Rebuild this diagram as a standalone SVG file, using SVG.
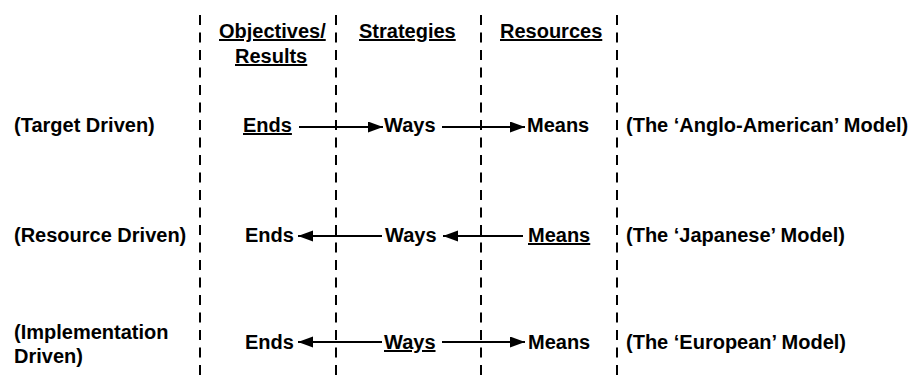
<svg xmlns="http://www.w3.org/2000/svg" width="912" height="379" viewBox="0 0 912 379">
  <style>
    text { font-family: "Liberation Sans", Arial, sans-serif; font-weight: bold; font-size: 20px; fill: #000; }
    .u { text-decoration: underline; }
    .divider { stroke: #000; stroke-width: 2; stroke-dasharray: 10 7.5; fill: none; }
    .flow { stroke: #000; stroke-width: 1.8; fill: none; marker-end: url(#head); }
  </style>
  <defs>
    <marker id="head" markerUnits="userSpaceOnUse" markerWidth="16" markerHeight="12" refX="15" refY="5.5" orient="auto">
      <path d="M0,0 L15,5.5 L0,11 Z" fill="#000"/>
    </marker>
  </defs>
  <rect width="912" height="379" fill="#fff"/>

  <!-- column dividers -->
  <g id="dividers">
    <line class="divider" x1="200" y1="15" x2="200" y2="379"/>
    <line class="divider" x1="336" y1="15" x2="336" y2="379"/>
    <line class="divider" x1="481" y1="15" x2="481" y2="379"/>
    <line class="divider" x1="617" y1="15" x2="617" y2="379"/>
  </g>

  <!-- column headings -->
  <g id="head-objectives">
    <text class="u" x="219" y="38">Objectives/</text>
    <text class="u" x="235" y="63">Results</text>
  </g>
  <g id="head-strategies"><text class="u" x="359" y="38">Strategies</text></g>
  <g id="head-resources"><text class="u" x="500" y="38">Resources</text></g>

  <!-- row labels -->
  <g id="label-target"><text x="14" y="132">(Target Driven)</text></g>
  <g id="label-resource"><text x="14" y="242">(Resource Driven)</text></g>
  <g id="label-implementation">
    <text x="14" y="339">(Implementation</text>
    <text x="14" y="363">Driven)</text>
  </g>

  <!-- row 1 nodes -->
  <g id="r1-ends"><text class="u" x="243" y="132">Ends</text></g>
  <g id="r1-ways"><text x="384" y="132">Ways</text></g>
  <g id="r1-means"><text x="527" y="132">Means</text></g>
  <g id="r1-model"><text x="626" y="132">(The ‘Anglo-American’ Model)</text></g>

  <!-- row 2 nodes -->
  <g id="r2-ends"><text x="245" y="242">Ends</text></g>
  <g id="r2-ways"><text x="385" y="242">Ways</text></g>
  <g id="r2-means"><text class="u" x="528" y="242">Means</text></g>
  <g id="r2-model"><text x="626" y="242">(The ‘Japanese’ Model)</text></g>

  <!-- row 3 nodes -->
  <g id="r3-ends"><text x="245" y="349">Ends</text></g>
  <g id="r3-ways"><text class="u" x="384" y="349">Ways</text></g>
  <g id="r3-means"><text x="528" y="349">Means</text></g>
  <g id="r3-model"><text x="626" y="349">(The ‘European’ Model)</text></g>

  <!-- connectors -->
  <g id="connectors">
    <line class="flow" x1="299" y1="127" x2="383" y2="127"/>
    <line class="flow" x1="442" y1="127" x2="525" y2="127"/>
    <line class="flow" x1="382" y1="236" x2="298" y2="236"/>
    <line class="flow" x1="523" y1="236" x2="443" y2="236"/>
    <line class="flow" x1="382" y1="342" x2="298" y2="342"/>
    <line class="flow" x1="442" y1="342" x2="525" y2="342"/>
  </g>
</svg>
